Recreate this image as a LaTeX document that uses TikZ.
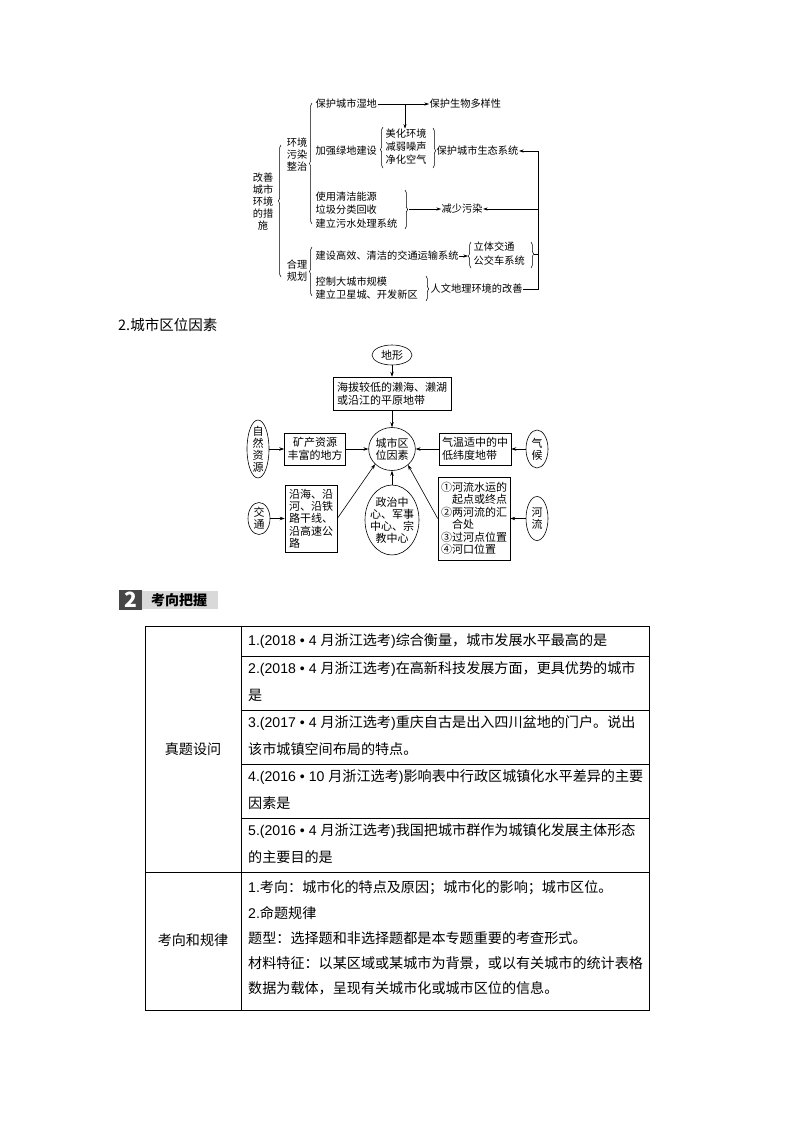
\documentclass[tikz,border=0pt]{standalone}
\usepackage{fontspec}
\setmainfont{Noto Sans CJK SC}
\newfontfamily\latn{Liberation Sans}
\newcommand\pfx[1]{{\latn #1}}
\usetikzlibrary{shapes.geometric,arrows.meta,decorations.pathreplacing}
\begin{document}
\begin{tikzpicture}[x=1pt,y=-1pt,
 tx/.style={inner sep=0.5pt, font=\fontsize{10.2}{13}\selectfont, align=left, anchor=west},
 stk/.style={inner sep=0pt, font=\fontsize{10.2}{12}\selectfont, align=center},
 brc/.style={decorate, line width=0.5pt, decoration={brace, amplitude=2.6pt, aspect=#1}},
 brc/.default=0.5,
 arr/.style={-{Stealth[length=4.5pt,width=3pt]}, line width=0.5pt},
 bx/.style={draw, line width=0.6pt, inner sep=3pt, font=\fontsize{11}{12.8}\selectfont, align=left},
 ell/.style={draw, ellipse, line width=0.6pt, inner sep=0pt, font=\fontsize{11}{12}\selectfont, align=center},
 arrb/.style={-{Stealth[length=5pt,width=3.5pt]}, line width=0.6pt},
 celltxt/.style={inner sep=0pt, anchor=west, font=\fontsize{14.1}{16}\selectfont},
 tbl/.style={line width=0.8pt},
]
\fill[white] (0,0) rectangle (794,1123);
\useasboundingbox (0,0) rectangle (794,1123);

% ---------- top diagram ----------
\node[stk] (gaishan) at (263,201.5) {改善\\城市\\环境\\的措\\施};
\draw[brc=0.576] (281,277) -- (281,145);
\node[stk] (hjwr) at (297,155) {环境\\污染\\整治};
\node[stk] (hlgh) at (297,271) {合理\\规划};
\draw[brc=0.5] (312,224) -- (312,103);
\draw[brc=0.5] (312,296) -- (312,247);

\node[tx] (shidi) at (315,104) {保护城市湿地};
\node[tx] (swdy) at (429,104) {保护生物多样性};
\draw[arr] (shidi.east) -- (swdy.west);
\coordinate (jn1) at (405,104);

\node[tx] (lvdi) at (315,151) {加强绿地建设};
\node[tx] (meihua) at (385,147) {美化环境\\减弱噪声\\净化空气};
\draw[arr] (jn1) -- (jn1 |- meihua.north);
\draw[brc=0.45] (383,168) -- (383,127);
\draw[brc=0.57] (433,128) -- (433,168);
\node[tx] (shengtai) at (436,151) {保护城市生态系统};

\node[tx, font=\fontsize{10.2}{13.5}\selectfont] (qingjie) at (315,210) {使用清洁能源\\垃圾分类回收\\建立污水处理系统};
\draw[brc=0.5] (405,190) -- (405,229);
\coordinate (b6) at (409,209);
\node[tx] (jianshao) at (441,209) {减少污染};
\draw[arr] (b6) -- (jianshao.west);

\node[tx] (jtys) at (315,256) {建设高效、清洁的交通运输系统};
\coordinate (b7) at (468,256);
\draw[arr] (jtys.east) -- (b7);
\draw[brc=0.46] (471,268) -- (471,242);
\node[tx, font=\fontsize{10.2}{14}\selectfont] (liti) at (473,254) {立体交通\\公交车系统};
\draw[brc=0.46] (531,242) -- (531,268);

\node[tx] (guimo) at (315,288.5) {控制大城市规模\\建立卫星城、开发新区};
\draw[brc=0.52] (426,276) -- (426,301);
\node[tx] (renwen) at (430,289) {人文地理环境的改善};

\coordinate (R1) at (538,289);
\coordinate (R0) at (538,151);
\coordinate (b8) at (534,254);
\draw[line width=0.5pt] (renwen.east) -- (renwen.east -| R1) -- (R0);
\draw[line width=0.5pt] (b8) -- (b8 -| R1);
\draw[arr] (R0) -- (shengtai.east);
\draw[arr] (R0 |- jianshao.east) -- (jianshao.east);

% ---------- second diagram ----------
\node[anchor=west, inner sep=0pt, font=\fontsize{14.5}{16}\selectfont] (title) at (118,325) {2.城市区位因素};

\node[ell, minimum width=40pt, minimum height=20pt] (dixing) at (392,355) {地形};
\node[bx, minimum width=118pt, minimum height=33pt] (haiba) at (392,393.5) {海拔较低的濑海、濑湖\\或沿江的平原地带};
\node[ell, minimum width=46pt, minimum height=43pt] (chengshi) at (392,449) {城市区\\位因素};
\node[bx, align=center, minimum width=60pt, minimum height=32pt] (kuang) at (315,449) {矿产资源\\丰富的地方};
\node[ell, inner sep=-3pt, minimum width=22pt, minimum height=58pt] (ziran) at (258,449) {自\\然\\资\\源};
\node[bx, minimum width=70pt, minimum height=32pt] (qiwen) at (475,449) {气温适中的中\\低纬度地带};
\node[ell, minimum width=22pt, minimum height=38pt] (qihou) at (537,449) {气\\候};

\node[bx, font=\fontsize{11}{12.3}\selectfont, minimum width=52pt, minimum height=67pt] (yanhai) at (311,518.5) {沿海、沿\\河、沿铁\\路干线、\\沿高速公\\路};
\node[ell, minimum width=22pt, minimum height=32pt] (jt) at (259,518.5) {交\\通};
\node[ell, inner sep=-7pt, minimum width=54pt, minimum height=70pt] (zz) at (392,520) {政治中\\心、军事\\中心、宗\\教中心};
\node[bx, font=\fontsize{11}{12.5}\selectfont, minimum width=72pt, minimum height=83pt] (hlwz) at (474,518.5) {①河流水运的\\\hspace*{11pt}起点或终点\\②两河流的汇\\\hspace*{11pt}合处\\③过河点位置\\④河口位置};
\node[ell, minimum width=22pt, minimum height=44pt] (heliu) at (537,518.5) {河\\流};

\draw[arrb] (dixing) -- (haiba);
\draw[arrb] (haiba) -- (chengshi);
\draw[arrb] (ziran) -- (kuang);
\draw[arrb] (kuang) -- (chengshi);
\draw[arrb] (qihou) -- (qiwen);
\draw[arrb] (qiwen) -- (chengshi);
\draw[arrb] (jt) -- (yanhai);
\draw[arrb] (yanhai.east) -- (chengshi.222);
\draw[arrb] (zz) -- (chengshi);
\draw[arrb] (hlwz.west) -- (chengshi.-45);
\draw[arrb] (heliu) -- (hlwz);

% ---------- header ----------
\fill[black!15] (142,591) rectangle (218,609);
\fill[black!72] (119,590) rectangle (142,610);
\node[text=white, inner sep=0pt, font=\fontsize{21}{21}\selectfont\bfseries] (num2) at (130.5,600) {2};
\node[anchor=west, inner sep=0pt, font=\fontsize{14}{16}\selectfont\bfseries] (kxbw) at (151,600) {考向把握};

% ---------- table ----------
\draw[tbl] (145,626) rectangle (649,1010);
\draw[tbl] (241,626) -- (241,1010);
\foreach \yy in {656,710,764,818} \draw[tbl] (241,\yy) -- (649,\yy);
\draw[tbl] (145,872) -- (649,872);

\node[inner sep=0pt, font=\fontsize{14.1}{16}\selectfont] (ztsw) at (193,749) {真题设问};
\node[inner sep=0pt, font=\fontsize{14.1}{16}\selectfont] (kxgl) at (193,940) {考向和规律};

\node[celltxt] (r1) at (248,641) {\pfx{1.(2018 • 4 }月浙江选考\pfx{)}综合衡量，城市发展水平最高的是};
\node[celltxt] (r2a) at (248,669) {\pfx{2.(2018 • 4 }月浙江选考\pfx{)}在高新科技发展方面，更具优势的城市};
\node[celltxt] (r2b) at (248,695) {是};
\node[celltxt] (r3a) at (248,723) {\pfx{3.(2017 • 4 }月浙江选考\pfx{)}重庆自古是出入四川盆地的门户。说出};
\node[celltxt] (r3b) at (248,749) {该市城镇空间布局的特点。};
\node[celltxt] (r4a) at (248,777) {\pfx{4.(2016 • 10 }月浙江选考\pfx{)}影响表中行政区城镇化水平差异的主要};
\node[celltxt] (r4b) at (248,803) {因素是};
\node[celltxt] (r5a) at (248,831) {\pfx{5.(2016 • 4 }月浙江选考\pfx{)}我国把城市群作为城镇化发展主体形态};
\node[celltxt] (r5b) at (248,857) {的主要目的是};
\node[celltxt] (r6a) at (248,888) {\pfx{1.}考向：城市化的特点及原因；城市化的影响；城市区位。};
\node[celltxt] (r6b) at (248,913) {\pfx{2.}命题规律};
\node[celltxt] (r6c) at (248,938) {题型：选择题和非选择题都是本专题重要的考查形式。};
\node[celltxt] (r6d) at (248,963) {材料特征：以某区域或某城市为背景，或以有关城市的统计表格};
\node[celltxt] (r6e) at (248,988) {数据为载体，呈现有关城市化或城市区位的信息。};
\end{tikzpicture}
\end{document}
